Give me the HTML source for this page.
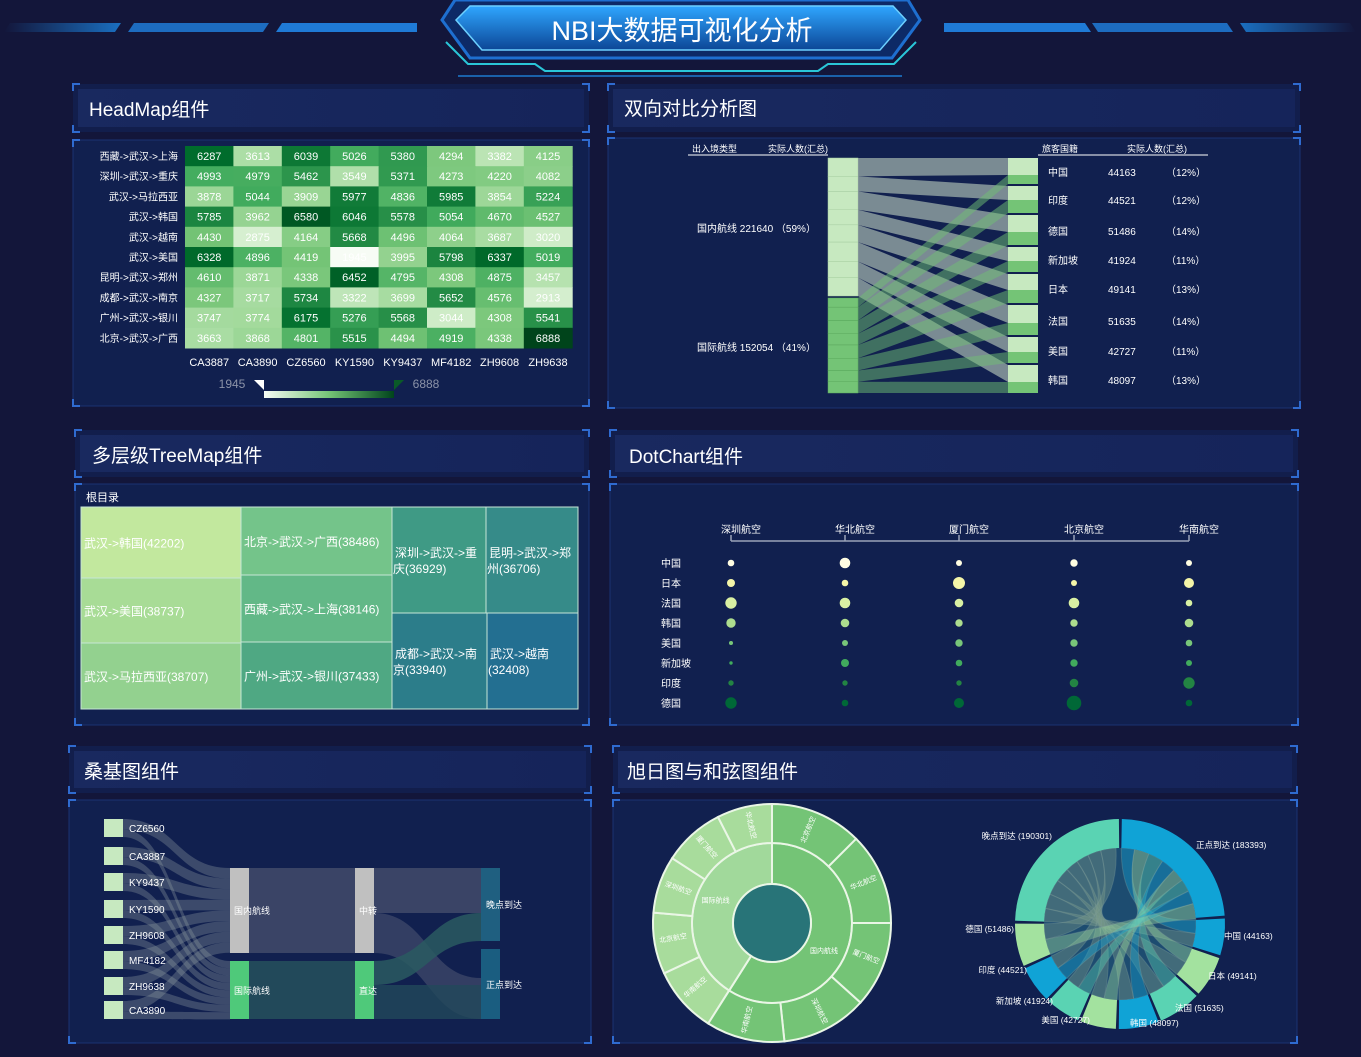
<!DOCTYPE html>
<html><head><meta charset="utf-8">
<style>
html,body{margin:0;padding:0;background:#13163a;}
svg{display:block;font-family:"Liberation Sans","Noto Sans CJK SC",sans-serif;}
</style></head>
<body>
<svg id="s" width="1361" height="1057" viewBox="0 0 1361 1057" xmlns="http://www.w3.org/2000/svg">
<defs>
<linearGradient id="hg" x1="0" y1="0" x2="0" y2="1"><stop offset="0" stop-color="#2fa6ff"/><stop offset="1" stop-color="#0c4696"/></linearGradient>
<linearGradient id="tb" x1="0" y1="0" x2="1" y2="0"><stop offset="0" stop-color="#19295f"/><stop offset="1" stop-color="#15245a"/></linearGradient>
<linearGradient id="vm" x1="0" y1="0" x2="1" y2="0"><stop offset="0" stop-color="#f7fcf5"/><stop offset="0.5" stop-color="#74c476"/><stop offset="1" stop-color="#00441b"/></linearGradient>
<linearGradient id="bl" x1="0" y1="0" x2="1" y2="0"><stop offset="0" stop-color="#13163a"/><stop offset="1" stop-color="#1a6fc0"/></linearGradient>
<linearGradient id="br" x1="0" y1="0" x2="1" y2="0"><stop offset="0" stop-color="#1a6fc0"/><stop offset="1" stop-color="#13163a"/></linearGradient>
</defs>
<rect width="1361" height="1057" fill="#13163a"/>
<polygon points="10,23 121,23 115,32 4,32" fill="url(#bl)"/>
<polygon points="134,23 269,23 263,32 128,32" fill="#1d6cc0"/>
<polygon points="282,23 417,23 417,32 276,32" fill="#1f7ad6"/>
<polygon points="944,23 1085,23 1091,32 944,32" fill="#1f7ad6"/>
<polygon points="1092,23 1227,23 1233,32 1098,32" fill="#1d6cc0"/>
<polygon points="1240,23 1350,23 1356,32 1246,32" fill="url(#br)"/>
<polygon points="455,0 908,0 920,20 892,58 470,58 442,20" fill="#0d2a66" stroke="#1e6fd0" stroke-width="3"/>
<polygon points="470,6 893,6 906,20 880,50 482,50 456,20" fill="url(#hg)" stroke="#6cd0ff" stroke-width="1.5"/>
<polyline points="446,42 468,64 535,64 545,71 818,71 828,64 894,64 916,42" fill="none" stroke="#2ac6d8" stroke-width="2"/>
<line x1="458" y1="76" x2="902" y2="76" stroke="#1d7ad0" stroke-width="1.5"/>
<text x="682" y="40" text-anchor="middle" font-size="27" fill="#fff">NBI大数据可视化分析</text>
<g id="g"></g>
</svg>
<script>
var S=document.getElementById('g'),H='';
function a(s){H+=s;}
function t(x,y,s,sz,c,anc,extra){a('<text x="'+x+'" y="'+y+'" font-size="'+sz+'" fill="'+(c||'#fff')+'"'+(anc?' text-anchor="'+anc+'"':'')+(extra||'')+'>'+s+'</text>');}
function br(x,y,w,h,c){var L=7;c=c||'#2f6bd0';
a('<path d="M'+x+' '+(y+L)+'V'+y+'H'+(x+L)+'M'+(x+w-L)+' '+y+'H'+(x+w)+'V'+(y+L)+'M'+(x+w)+' '+(y+h-L)+'V'+(y+h)+'H'+(x+w-L)+'M'+(x+L)+' '+(y+h)+'H'+x+'V'+(y+h-L)+'" fill="none" stroke="'+c+'" stroke-width="2"/>');}
function panel(T,C,title,tx,ty){
 a('<rect x="'+T[0]+'" y="'+T[1]+'" width="'+T[2]+'" height="'+T[3]+'" fill="#121e4c"/>');
 a('<rect x="'+(T[0]+5)+'" y="'+(T[1]+5)+'" width="'+(T[2]-10)+'" height="'+(T[3]-10)+'" fill="url(#tb)"/>');
 br(T[0],T[1],T[2],T[3]);
 a('<rect x="'+C[0]+'" y="'+C[1]+'" width="'+C[2]+'" height="'+C[3]+'" fill="#11204f" stroke="#1a3272" stroke-width="1"/>');
 br(C[0],C[1],C[2],C[3]);
 t(tx,ty,title,19,'#fff');
}
panel([73,84,516,48],[73,140,516,266],'HeadMap组件',89,116);
panel([608,84,692,48],[608,138,692,270],'双向对比分析图',624,115);
panel([75,430,514,47],[75,484,514,241],'多层级TreeMap组件',92,462);
panel([610,430,688,47],[610,484,688,241],'DotChart组件',629,463);
panel([69,746,522,47],[69,800,522,243],'桑基图组件',84,778);
panel([613,746,684,47],[613,800,684,243],'旭日图与和弦图组件',627,778);

var rows=['西藏->武汉->上海','深圳->武汉->重庆','武汉->马拉西亚','武汉->韩国','武汉->越南','武汉->美国','昆明->武汉->郑州','成都->武汉->南京','广州->武汉->银川','北京->武汉->广西'];
var cols=['CA3887','CA3890','CZ6560','KY1590','KY9437','MF4182','ZH9608','ZH9638'];
var D=[[6287,3613,6039,5026,5380,4294,3382,4125],[4993,4979,5462,3549,5371,4273,4220,4082],[3878,5044,3909,5977,4836,5985,3854,5224],[5785,3962,6580,6046,5578,5054,4670,4527],[4430,2875,4164,5668,4496,4064,3687,3020],[6328,4896,4419,1945,3995,5798,6337,5019],[4610,3871,4338,6452,4795,4308,4875,3457],[4327,3717,5734,3322,3699,5652,4576,2913],[3747,3774,6175,5276,5568,3044,4308,5541],[3663,3868,4801,5515,4494,4919,4338,6888]];
var G=['#f7fcf5','#e5f5e0','#c7e9c0','#a1d99b','#74c476','#41ab5d','#238b45','#006d2c','#00441b'];
function hx(h){return [parseInt(h.substr(1,2),16),parseInt(h.substr(3,2),16),parseInt(h.substr(5,2),16)];}
function sc(v){var tt=(v-1945)/(6888-1945)*8;var i=Math.min(7,Math.floor(tt)),f=tt-i;var p=hx(G[i]),q=hx(G[i+1]);return 'rgb('+p.map(function(x,k){return Math.round(x+(q[k]-x)*f)}).join(',')+')';}
var cw=48.4,ch=20.2;
for(var r=0;r<10;r++){t(178,160+r*ch,rows[r],10,'#fff','end');
 for(var c=0;c<8;c++){a('<rect x="'+(185+c*cw)+'" y="'+(146+r*ch)+'" width="'+(cw+0.5)+'" height="'+(ch+0.5)+'" fill="'+sc(D[r][c])+'"/>');
  t(185+c*cw+cw/2,160+r*ch,D[r][c],11,'#fff','middle');}}
for(var c=0;c<8;c++)t(185+c*cw+cw/2,366,cols[c],11,'#fff','middle');
t(232,388,'1945',12,'#8c93a8','middle');t(426,388,'6888',12,'#8c93a8','middle');
a('<rect x="264" y="391" width="130" height="7" fill="url(#vm)"/>');
a('<polygon points="254,380 264,380 264,390" fill="#fff"/><polygon points="394,380 404,380 394,390" fill="#0a5a28"/>');

t(692,152,'出入境类型',9,'#fff');t(768,152,'实际人数(汇总)',9,'#fff');
a('<line x1="688" y1="155" x2="828" y2="155" stroke="#fff" stroke-width="1"/>');
t(1042,152,'旅客国籍',9,'#fff');t(1127,152,'实际人数(汇总)',9,'#fff');
a('<line x1="1038" y1="155" x2="1208" y2="155" stroke="#fff" stroke-width="1"/>');
t(697,232,'国内航线 221640 （59%）',10,'#fff');t(697,351,'国际航线 152054 （41%）',10,'#fff');
var RS=[[158,175,184],[186,200,213],[215,232,245],[247,261,272],[274,290,303],[305,323,335],[337,352,363],[365,382,393]];
var names=['中国','印度','德国','新加坡','日本','法国','美国','韩国'],vals=['44163','44521','51486','41924','49141','51635','42727','48097'],pc=['12%','12%','14%','11%','13%','14%','11%','13%'];
var ly=[176,204,235,264,293,325,355,384];
var sumL=0,sumG=0;RS.forEach(function(s){sumL+=s[1]-s[0];sumG+=s[2]-s[1];});
var yl=158,yg=298,links='',glinks='';
RS.forEach(function(s,i){var hl=(s[1]-s[0])*138/sumL,hg=(s[2]-s[1])*95/sumG;
 links+='<polygon points="858,'+yl+' 1008,'+s[0]+' 1008,'+s[1]+' 858,'+(yl+hl)+'" fill="#a3b4ad" fill-opacity="0.72"/>';
 glinks+='<polygon points="858,'+yg+' 1008,'+s[1]+' 1008,'+s[2]+' 858,'+(yg+hg)+'" fill="#6fbf74" fill-opacity="0.5"/>';
 a('<rect x="828" y="'+yl+'" width="30" height="'+hl+'" fill="#c7e9c0" stroke="#a8cfa2" stroke-width="0.5"/>');
 a('<rect x="828" y="'+yg+'" width="30" height="'+hg+'" fill="#74c476" stroke="#5aa85c" stroke-width="0.5"/>');
 yl+=hl;yg+=hg;
 a('<rect x="1008" y="'+s[0]+'" width="30" height="'+(s[1]-s[0])+'" fill="#c7e9c0"/><rect x="1008" y="'+s[1]+'" width="30" height="'+(s[2]-s[1])+'" fill="#74c476"/>');
 t(1048,ly[i],names[i],10,'#fff');t(1108,ly[i],vals[i],10,'#fff');t(1166,ly[i],'（'+pc[i]+'）',10,'#fff');
});
a(links+glinks);

t(86,501,'根目录',11,'#fff');
var TM=[[81,507,160,71,'#c2e89e','武汉->韩国(42202)'],[81,578,160,65,'#a8dc96','武汉->美国(38737)'],[81,643,160,66,'#93d18f','武汉->马拉西亚(38707)'],
[241,507,151,68,'#74c48a','北京->武汉->广西(38486)'],[241,575,151,67,'#62b887','西藏->武汉->上海(38146)'],[241,642,151,67,'#4fa883','广州->武汉->银川(37433)'],
[392,507,94,106,'#3f9a85','深圳->武汉->重|庆(36929)'],[486,507,92,106,'#368b89','昆明->武汉->郑|州(36706)'],
[392,613,95,96,'#2c7d8a','成都->武汉->南|京(33940)'],[487,613,91,96,'#236f91','武汉->越南|(32408)']];
TM.forEach(function(m){a('<rect x="'+m[0]+'" y="'+m[1]+'" width="'+m[2]+'" height="'+m[3]+'" fill="'+m[4]+'" stroke="#c6e6d6" stroke-width="1"/>');
 var p=m[5].split('|');if(p.length==1)t(m[0]+3,m[1]+m[3]/2+5,p[0],12,'#fff');else{t(m[0]+3,m[1]+m[3]/2-3,p[0],12,'#fff');t(m[0]+1,m[1]+m[3]/2+13,p[1],12,'#fff');}});

var DX=[731,845,959,1074,1189],AL=['深圳航空','华北航空','厦门航空','北京航空','华南航空'];
a('<line x1="731" y1="541" x2="1189" y2="541" stroke="#9aa3b8" stroke-width="1.5"/>');
DX.forEach(function(x,i){a('<line x1="'+x+'" y1="535" x2="'+x+'" y2="541" stroke="#9aa3b8" stroke-width="1.5"/>');t(x+10,533,AL[i],10,'#fff','middle');});
var DN=['中国','日本','法国','韩国','美国','新加坡','印度','德国'],DC=['#fffde2','#f4f5a8','#d9f0a3','#addd8e','#78c679','#41ab5d','#238443','#006837'];
var DR=[[3.3,5.3,3,3.7,3],[4,3.3,6,3,5],[5.7,5.3,4.3,5.3,3.3],[4.7,4.3,3.7,3.7,4.3],[2,3,3.7,3.7,3.3],[1.7,4,3.3,3.7,3],[2.7,2.7,2.7,4.3,5.7],[5.7,3.3,5,7.3,3.3]];
DN.forEach(function(n,i){var y=563+i*20;t(661,y+4,n,10,'#fff');DX.forEach(function(x,j){a('<circle cx="'+x+'" cy="'+y+'" r="'+DR[i][j]+'" fill="'+DC[i]+'"/>');});});

var SL=['CZ6560','CA3887','KY9437','KY1590','ZH9608','MF4182','ZH9638','CA3890'],SY=[828,856,882,909,935,960,986,1010];
var ya=868,yb=961,sk='';
SY.forEach(function(y,i){var y0=y-9,h1=10.6,h2=7.3;
 sk+='<path d="M123 '+y0+'C176 '+y0+' 176 '+ya+' 230 '+ya+'L230 '+(ya+h1)+'C176 '+(ya+h1)+' 176 '+(y0+h1)+' 123 '+(y0+h1)+'Z" fill="#8c9aa0" fill-opacity="0.35"/>';
 sk+='<path d="M123 '+(y0+h1)+'C176 '+(y0+h1)+' 176 '+yb+' 230 '+yb+'L230 '+(yb+h2)+'C176 '+(yb+h2)+' 176 '+(y0+18)+' 123 '+(y0+18)+'Z" fill="#8c9aa0" fill-opacity="0.35"/>';
 ya+=h1;yb+=h2;});
a(sk);
a('<rect x="249" y="868" width="106" height="85" fill="#3a4466"/><rect x="249" y="961" width="106" height="58" fill="#22495a"/>');
a('<path d="M374 868H481V913H374Z" fill="#3a4466"/>');
a('<path d="M374 913C428 913 428 978 481 978L481 1019C428 1019 428 953 374 953Z" fill="#3a4466" fill-opacity="0.85"/>');
a('<path d="M374 961C428 961 428 913 481 913L481 941C428 941 428 985 374 985Z" fill="#2a5a60" fill-opacity="0.85"/>');
a('<path d="M374 985H481V1019H374Z" fill="#22495a" fill-opacity="0.8"/>');
SY.forEach(function(y,i){a('<rect x="104" y="'+(y-9)+'" width="19" height="18" fill="#c7e9c0"/>');t(129,y+4,SL[i],10,'#fff');});
a('<rect x="230" y="868" width="19" height="85" fill="#c0c0c0"/><rect x="230" y="961" width="19" height="58" fill="#4fc97a"/>');
a('<rect x="355" y="868" width="19" height="85" fill="#c0c0c0"/><rect x="355" y="961" width="19" height="58" fill="#4fc97a"/>');
a('<rect x="481" y="868" width="19" height="73" fill="#1f5f80"/><rect x="481" y="949" width="19" height="70" fill="#1a5d80"/>');
t(234,914,'国内航线',9,'#fff');t(234,994,'国际航线',9,'#fff');t(359,914,'中转',9,'#fff');t(359,994,'直达',9,'#fff');
t(486,908,'晚点到达',9,'#fff');t(486,988,'正点到达',9,'#fff');

function P(cx,cy,r,d){var q=d*Math.PI/180;return [cx+r*Math.sin(q),cy-r*Math.cos(q)];}
function arc(cx,cy,r0,r1,d0,d1,f,st){var L=(d1-d0)>180?1:0,a0=P(cx,cy,r1,d0),a1=P(cx,cy,r1,d1),b1=P(cx,cy,r0,d1),b0=P(cx,cy,r0,d0);
 return '<path d="M'+a0+'A'+r1+','+r1+' 0 '+L+' 1 '+a1+'L'+b1+'A'+r0+','+r0+' 0 '+L+' 0 '+b0+'Z" fill="'+f+'"'+(st||'')+'/>';}
var cx=772,cy=923,ws=' stroke="#eaf6e6" stroke-width="2"';
a(arc(cx,cy,39,80,0,212.4,'#74c476',ws));a(arc(cx,cy,39,80,212.4,359.99,'#a1d99b',ws));
var ob=[0,45,90,132,174,212.4],ib=[212.4,245,275,303,333,360];
for(var i=0;i<5;i++){a(arc(cx,cy,80,119,ob[i],ob[i+1],'#74c476',ws));a(arc(cx,cy,80,119,ib[i],ib[i+1]-0.01,'#a8dc9c',ws));}
a('<circle cx="'+cx+'" cy="'+cy+'" r="39" fill="#287478" stroke="#eaf6e6" stroke-width="2"/>');
var sl=['北京航空','华北航空','厦门航空','深圳航空','华南航空'],il=['华南航空','北京航空','深圳航空','厦门航空','华北航空'];
for(var i=0;i<5;i++){var m=(ob[i]+ob[i+1])/2,p=P(cx,cy,100,m);a('<text x="'+p[0]+'" y="'+p[1]+'" font-size="7" fill="#fff" text-anchor="middle" transform="rotate('+(m-90+(m>180?180:0))+' '+p[0]+' '+p[1]+')">'+sl[i]+'</text>');
 m=(ib[i]+ib[i+1])/2;p=P(cx,cy,100,m);a('<text x="'+p[0]+'" y="'+p[1]+'" font-size="7" fill="#fff" text-anchor="middle" transform="rotate('+(m-90+(m>180?180:0))+' '+p[0]+' '+p[1]+')">'+il[i]+'</text>');}
var p1=P(cx,cy,60,120);t(p1[0],p1[1],'国内航线',7,'#fff','middle');p1=P(cx,cy,60,290);t(p1[0],p1[1],'国际航线',7,'#fff','middle');

var ccx=1120,ccy=924,R1=105,R0=76;
var CH=[['正点到达',183393,'#10a3d6'],['中国',44163,'#10a3d6'],['日本',49141,'#a3e29f'],['法国',51635,'#5ad3b3'],['韩国',48097,'#10a3d6'],['美国',42727,'#a3e29f'],['新加坡',41924,'#5ad3b3'],['印度',44521,'#10a3d6'],['德国',51486,'#a3e29f'],['晚点到达',190301,'#5ad3b3']];
var tot=0;CH.forEach(function(c){tot+=c[1];});
var pad=1.6,avail=360-pad*10,d=1,ang=[];
CH.forEach(function(c){var w=c[1]/tot*avail;ang.push([d,d+w]);d+=w+pad;});
a('<circle cx="'+ccx+'" cy="'+ccy+'" r="'+R0+'" fill="#1d4c70"/>');
var zp=ang[0][0],wp=ang[9][0],rb='';
function rib(a0,a1,b0,b1,col){var A0=P(ccx,ccy,R0,a0),A1=P(ccx,ccy,R0,a1),B0=P(ccx,ccy,R0,b0),B1=P(ccx,ccy,R0,b1);
  return '<path d="M'+A0+'A'+R0+','+R0+' 0 0 1 '+A1+'Q'+ccx+','+ccy+' '+B0+'A'+R0+','+R0+' 0 0 1 '+B1+'Q'+ccx+','+ccy+' '+A0+'Z" fill="'+col+'" fill-opacity="0.4" stroke="#7a9a9a" stroke-opacity="0.35"/>';}
for(var i=1;i<9;i++){var s=ang[i],mid=(s[0]+s[1])/2,c=CH[i][2];
 var zw=(ang[0][1]-ang[0][0])*CH[i][1]/183393/2.02,ww=(ang[9][1]-ang[9][0])*CH[i][1]/190301/2.02;
 rb+=rib(s[0],mid,zp,zp+zw,c);zp+=zw;
 rb+=rib(mid,s[1],wp,wp+ww,'#7a9a8a');wp+=ww;}
a(rb);
CH.forEach(function(c,i){a(arc(ccx,ccy,R0,R1,ang[i][0],ang[i][1],c[2]));});
var CL=[[1196,848,'正点到达 (183393)','start'],[1224,939,'中国 (44163)','start'],[1208,979,'日本 (49141)','start'],[1175,1011,'法国 (51635)','start'],[1130,1026,'韩国 (48097)','start'],[1090,1023,'美国 (42727)','end'],[1053,1004,'新加坡 (41924)','end'],[1027,973,'印度 (44521)','end'],[1014,932,'德国 (51486)','end'],[1052,839,'晚点到达 (190301)','end']];
CL.forEach(function(l){t(l[0],l[1],l[2],8.5,'#fff',l[3]);});
S.innerHTML=H;
</script>
</body></html>
